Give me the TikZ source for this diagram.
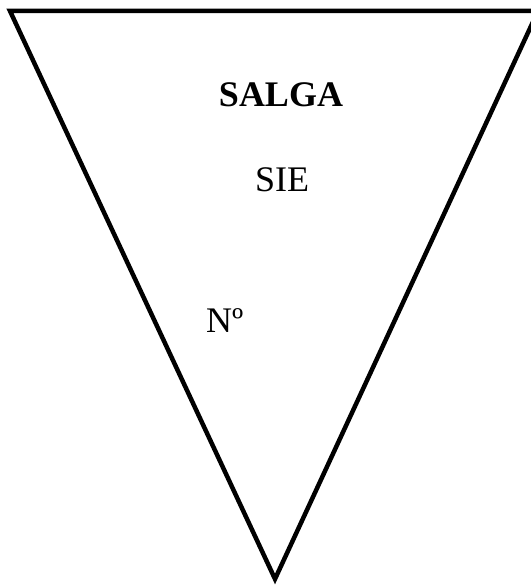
\documentclass[tikz,border=0pt]{standalone}
\usepackage{fontspec}
\setmainfont{Liberation Serif}
\usetikzlibrary{positioning}

\begin{document}
\begin{tikzpicture}[
    x=1pt, y=1pt,
    tri/.style={draw, line width=4.5pt, line join=miter},
    lbl/.style={inner sep=0pt, anchor=base, font=\fontsize{36}{40}\selectfont},
]
\useasboundingbox (0,0) rectangle (530,585);

% Pennant outline
\coordinate (tl) at (10,574);
\coordinate (tr) at (538,574);
\coordinate (tip) at (275,6);
\draw[tri] (tl) -- (tr) -- (tip) -- cycle;

% Labels
\node[lbl, font=\fontsize{36}{40}\selectfont\bfseries] (title) at (281,478) {SALGA};
\node[lbl] (sie) at (282,393) {SIE};
\node[lbl, anchor=base west] (num) at (206,252) {Nº};
\end{tikzpicture}
\end{document}
